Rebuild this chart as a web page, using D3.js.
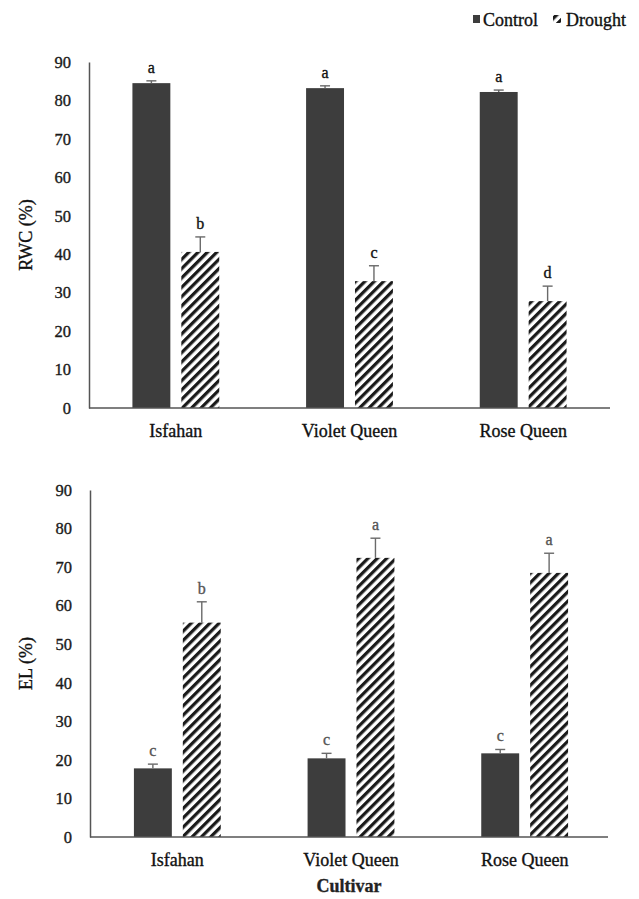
<!DOCTYPE html>
<html>
<head>
<meta charset="utf-8">
<script src="https://cdn.jsdelivr.net/npm/d3@7/dist/d3.min.js"></script>
<style>
  html, body { margin: 0; padding: 0; background: #fff; }
  svg text {
    font-family: "Liberation Serif", "DejaVu Serif", "Times New Roman", serif;
    stroke: currentColor;
    stroke-width: 0.35px;
  }
</style>
</head>
<body>
<svg id="chart" width="639" height="899"></svg>
<script>
// Cultivars and treatments
const cultivars = ["Isfahan", "Violet Queen", "Rose Queen"];
const treatments = ["Control", "Drought"];
const yTicks = [0, 10, 20, 30, 40, 50, 60, 70, 80, 90];

// Relative water content (%)
const rwcControl = [84.5, 83.2, 82.2];
const rwcControlErr = [0.6, 0.6, 0.5];
const rwcDrought = [40.6, 33.0, 27.8];
const rwcDroughtErr = [3.9, 4.0, 3.9];
const rwcControlLetters = ["a", "a", "a"];
const rwcDroughtLetters = ["b", "c", "d"];

// Electrolyte leakage (%)
const elControl = [17.8, 20.4, 21.7];
const elControlErr = [1.1, 1.3, 1.0];
const elDrought = [55.6, 72.4, 68.5];
const elDroughtErr = [5.4, 5.1, 5.1];
const elControlLetters = ["c", "c", "c"];
const elDroughtLetters = ["b", "a", "a"];

const svg = d3.select("#chart");

// Diagonal hatch used for the drought bars
const defs = svg.append("defs");
const pat = defs.append("pattern")
  .attr("id", "hatch")
  .attr("patternUnits", "userSpaceOnUse")
  .attr("width", 6.6).attr("height", 6.6)
  .attr("patternTransform", "rotate(45)");
pat.append("rect").attr("width", 6.6).attr("height", 6.6).attr("fill", "#fff");
pat.append("line")
  .attr("x1", 1.6).attr("y1", 0).attr("x2", 1.6).attr("y2", 6.6)
  .attr("stroke", "#1a1a1a").attr("stroke-width", 3.3);

const x0 = d3.scaleBand().domain(cultivars).range([89, 610])
  .paddingInner(0.5).paddingOuter(0.25);
const x1 = d3.scaleBand().domain(treatments).range([0, x0.bandwidth()])
  .paddingInner(0.2245).paddingOuter(0);

const fills = { Control: "#3d3d3d", Drought: "url(#hatch)" };

function panel(opts) {
  const y = d3.scaleLinear().domain([0, 90]).range([opts.y0, opts.y90]);
  const g = svg.append("g");

  const rows = [];
  cultivars.forEach((c, i) => {
    rows.push({ c, t: "Control", v: opts.control[i], e: opts.controlErr[i], l: opts.controlLetters[i] });
    rows.push({ c, t: "Drought", v: opts.drought[i], e: opts.droughtErr[i], l: opts.droughtLetters[i] });
  });

  // bars
  g.selectAll("rect.bar").data(rows).enter().append("rect")
    .attr("class", "bar")
    .attr("x", d => x0(d.c) + x1(d.t) + opts.shift)
    .attr("width", x1.bandwidth())
    .attr("y", d => y(d.v))
    .attr("height", d => y(0) - y(d.v))
    .attr("fill", d => fills[d.t]);

  // upper error bars
  const eb = g.selectAll("g.err").data(rows).enter().append("g").attr("class", "err");
  const cx = d => x0(d.c) + x1(d.t) + opts.shift + x1.bandwidth() / 2;
  eb.append("line")
    .attr("x1", cx).attr("x2", cx)
    .attr("y1", d => y(d.v)).attr("y2", d => y(d.v + d.e))
    .attr("stroke", "#6a6a6a").attr("stroke-width", 1.4);
  eb.append("line")
    .attr("x1", d => cx(d) - 5).attr("x2", d => cx(d) + 5)
    .attr("y1", d => y(d.v + d.e)).attr("y2", d => y(d.v + d.e))
    .attr("stroke", "#6a6a6a").attr("stroke-width", 1.4);

  // significance letters
  g.selectAll("text.letter").data(rows).enter().append("text")
    .attr("class", "letter")
    .attr("x", cx)
    .attr("y", d => y(d.v + d.e) - 8)
    .attr("text-anchor", "middle")
    .attr("font-size", 16)
    .style("color", opts.letterColor)
    .attr("fill", opts.letterColor)
    .text(d => d.l);

  // y axis
  const ya = g.append("g")
    .attr("transform", `translate(${opts.axisX},0)`)
    .call(d3.axisLeft(y).tickValues(yTicks).tickSize(0).tickSizeOuter(0).tickPadding(18));
  ya.attr("font-family", null);
  ya.select(".domain").attr("stroke", "#555").attr("stroke-width", 1.5);
  ya.selectAll("text")
    .attr("font-size", 16.5).attr("fill", "#1a1a1a").style("color", "#1a1a1a");

  // x axis
  const xa = g.append("g")
    .attr("transform", `translate(${opts.shift},${y(0)})`)
    .call(d3.axisBottom(x0).tickSize(0).tickSizeOuter(0).tickPadding(16));
  xa.attr("font-family", null);
  xa.select(".domain")
    .attr("d", `M${opts.axisX - opts.shift},0H${opts.axisEnd - opts.shift}`)
    .attr("stroke", "#555").attr("stroke-width", 1.5);
  xa.selectAll("text")
    .attr("font-size", 18).attr("fill", "#111").style("color", "#111");

  // y title
  g.append("text")
    .attr("transform", `translate(${opts.titleX},${(opts.y0 + opts.y90) / 2}) rotate(-90)`)
    .attr("text-anchor", "middle")
    .attr("font-size", 18).attr("fill", "#111").style("color", "#111")
    .text(opts.title);
}

panel({
  y0: 408, y90: 62, axisX: 89, axisEnd: 610, shift: 0, titleX: 32,
  control: rwcControl, controlErr: rwcControlErr, controlLetters: rwcControlLetters,
  drought: rwcDrought, droughtErr: rwcDroughtErr, droughtLetters: rwcDroughtLetters,
  letterColor: "#111", title: "RWC (%)"
});

panel({
  y0: 837, y90: 490, axisX: 90, axisEnd: 608, shift: 1.5, titleX: 32,
  control: elControl, controlErr: elControlErr, controlLetters: elControlLetters,
  drought: elDrought, droughtErr: elDroughtErr, droughtLetters: elDroughtLetters,
  letterColor: "#555", title: "EL  (%)"
});

// x title
svg.append("text")
  .attr("x", 349).attr("y", 892)
  .attr("text-anchor", "middle")
  .attr("font-size", 18).attr("font-weight", "bold")
  .attr("fill", "#222").style("color", "#222")
  .text("Cultivar");

// legend
const lg = svg.append("g");
lg.append("rect").attr("x", 473).attr("y", 15).attr("width", 7).attr("height", 8).attr("fill", "#3d3d3d");
lg.append("text").attr("x", 483).attr("y", 26).attr("font-size", 18)
  .attr("fill", "#111").style("color", "#111").text(treatments[0]);
lg.append("rect").attr("x", 553).attr("y", 15).attr("width", 8).attr("height", 8).attr("fill", "url(#hatch)");
lg.append("text").attr("x", 566).attr("y", 26).attr("font-size", 18)
  .attr("fill", "#111").style("color", "#111").text(treatments[1]);
</script>
</body>
</html>
